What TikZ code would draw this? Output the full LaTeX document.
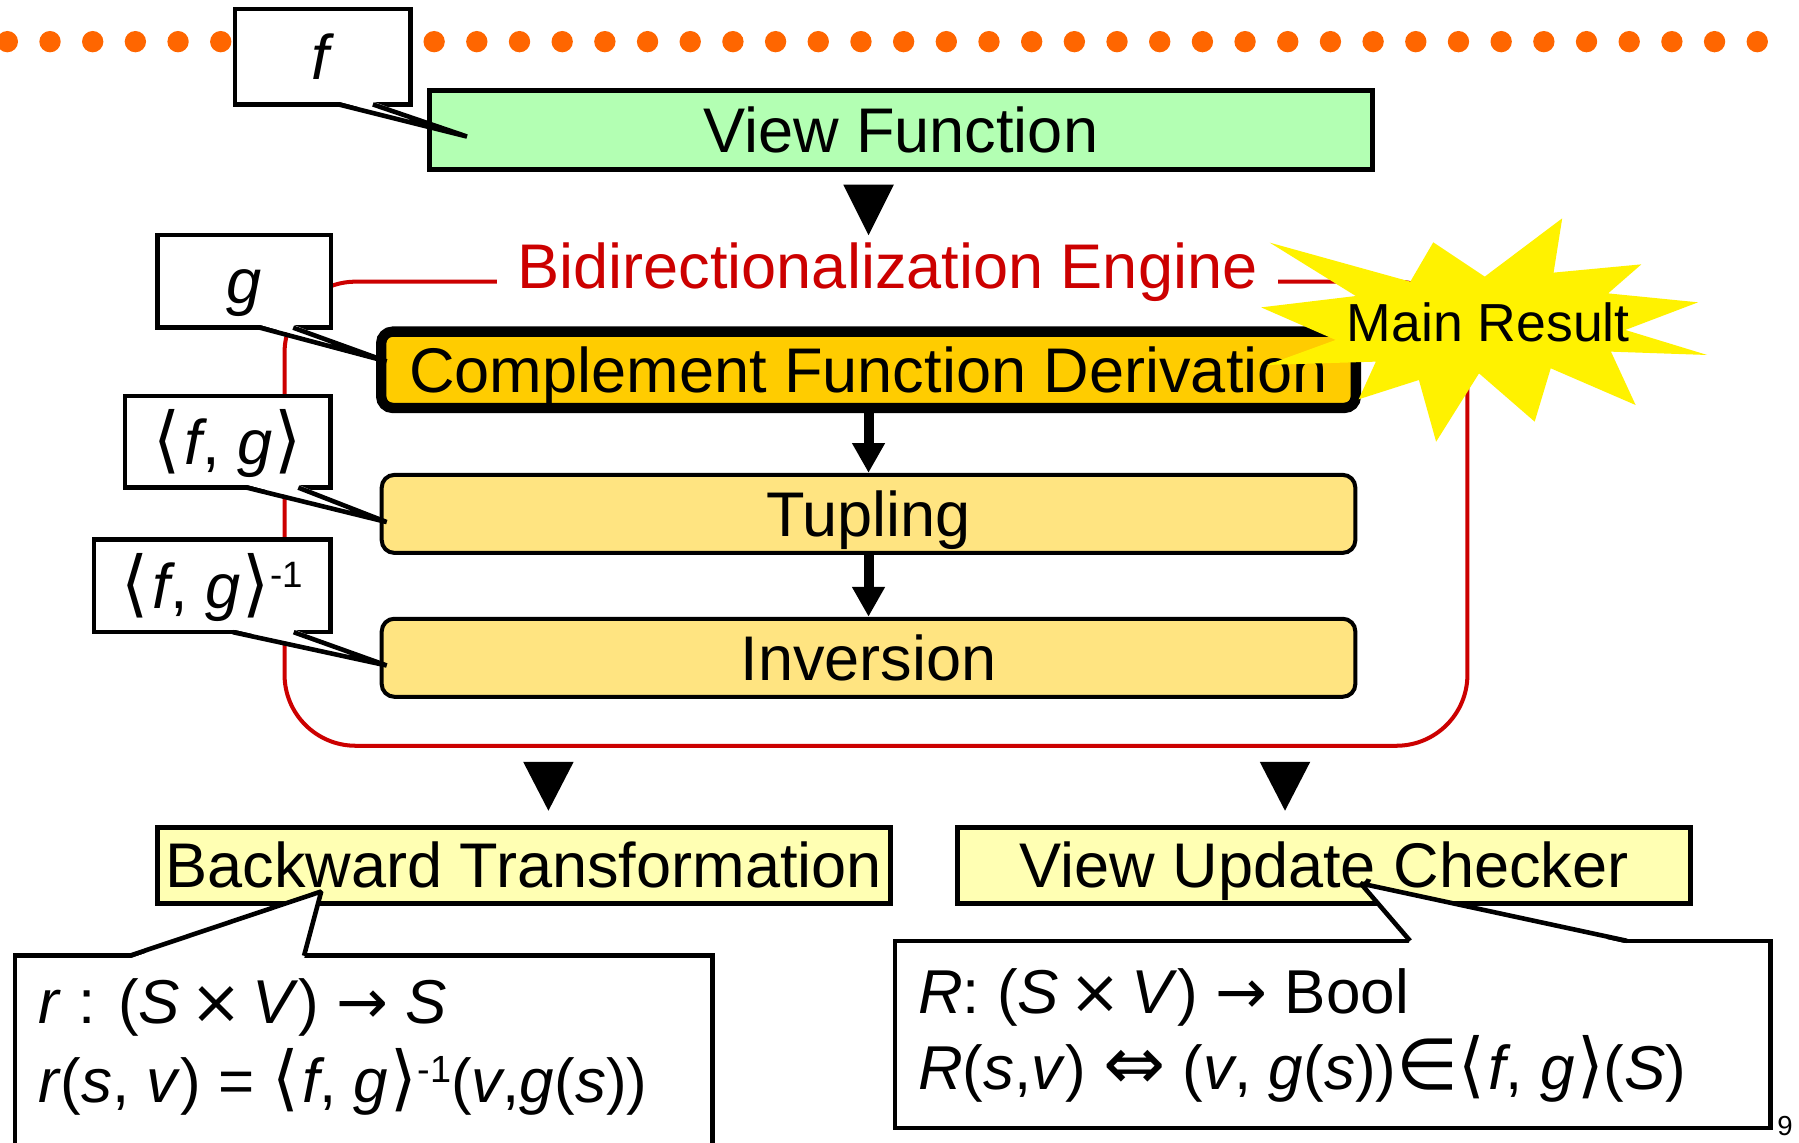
\documentclass[tikz,border=0pt]{standalone}
\usepackage{fontspec}
\setmainfont{Liberation Sans}
\newfontfamily\symf{DejaVu Sans}
\usetikzlibrary{arrows.meta}
\definecolor{dotorange}{HTML}{FF6600}
\definecolor{viewgreen}{HTML}{B3FFB3}
\definecolor{engred}{HTML}{CC0000}
\definecolor{compgold}{HTML}{FFCC00}
\definecolor{steppale}{HTML}{FFE481}
\definecolor{outpale}{HTML}{FFFFB3}
\newcommand{\lpair}{{\symf\scalebox{1.1}[1.15]{⟨}\hspace{.06em}}}
\newcommand{\rpair}{{\hspace{.04em}\symf\scalebox{1.1}[1.15]{⟩}}}
\newcommand{\supinv}[1]{\raisebox{.33em}{\fontsize{#1}{#1}\selectfont -1}}
\begin{document}
\begin{tikzpicture}[x=1pt,y=-1pt,
                bigfont/.style={font=\fontsize{55}{60}\selectfont},
                stepbox/.style={draw,line width=3.5pt,rounded corners=11pt,fill=steppale,minimum width=848.6pt,minimum height=68pt,inner sep=0pt,text height=39pt,text depth=0pt,bigfont},
                outbox/.style={draw,line width=4.4pt,fill=outpale,minimum width=639pt,minimum height=66.5pt,inner sep=0pt,text height=39pt,text depth=0pt,bigfont},
                lbl/.style={draw,line width=4pt,fill=white,inner sep=0pt,text height=39pt,text depth=0pt,bigfont},
                ptr/.style={line width=4pt,line join=bevel},
                dflow/.style={line width=8.7pt,-{Triangle[width=27pt,length=26pt]}},
                formula/.style={anchor=base west,inner sep=0pt,font=\fontsize{54}{58}\selectfont}]
                \fill[white] (0,0) rectangle (1568,996);
                \useasboundingbox (0,0) rectangle (1568,996);
                \foreach \i in {0,...,41}
                {
                    \fill[dotorange] (6.4+37.2*\i,36.3) circle (9.3pt);
                }
                \node[draw,line width=4.4pt,fill=viewgreen,minimum width=822pt,minimum height=68.5pt,inner sep=0pt,text height=39pt,text depth=0pt,bigfont] (view) at (785,113.3) {View Function};
                \draw[engred,line width=3.5pt,rounded corners=62pt] (248,245.5) rectangle (1279,650);
                \node[engred,fill=white,inner xsep=18pt,inner ysep=2pt,anchor=base,bigfont] (engine) at (773.5,251.3) {Bidirectionalization Engine};
                \node[draw,line width=9pt,rounded corners=10pt,fill=compgold,minimum width=849.5pt,minimum height=66.5pt,inner sep=0pt,text height=39pt,text depth=0pt,bigfont] (comp) at (757,322.3) {Complement Function Derivation};
                \node[stepbox] (tup) at (757,447.9) {Tupling};
                \node[stepbox] (inv) at (757,573.3) {Inversion};
                \draw[dflow] (comp) -- (tup);
                \draw[dflow] (tup) -- (inv);
                \fill (735,161) -- (779,161) -- (757,205) -- cycle;
                \fill (456,664) -- (500,664) -- (478,706.6) -- cycle;
                \fill (1098,664) -- (1142,664) -- (1120,706.6) -- cycle;
                \node[outbox] (back) at (456.5,754.3) {Backward Transformation};
                \node[outbox] (chk) at (1154,754.3) {View Update Checker};
                \node[lbl,minimum width=153pt,minimum height=83pt] (f) at (281.5,49.5) {\textit{f}};
                \node[lbl,minimum width=151.5pt,minimum height=80.8pt] (g) at (212.8,245.2) {\textit{g}};
                \node[lbl,minimum width=179pt,minimum height=80pt] (fg) at (198.5,385) {\lpair\textit{f}, \textit{g}\rpair};
                \node[lbl,minimum width=206pt,minimum height=81pt] (fgi) at (185,510.5) {\lpair\textit{f}, \textit{g}\rpair\supinv{32}};
                \coordinate (fTip) at (407,119);
                \coordinate (gTip) at (337,315);
                \coordinate (fgTip) at (337,455);
                \coordinate (fgiTip) at (337,580);
                \foreach \nd/\xa/\xb/\tp in {f/-65/-35/fTip,g/-64/-35/gTip,fg/-75/-30/fgTip,fgi/-87/-34/fgiTip}
                {
                    \fill[white] ([shift={(\xa pt,4.5pt)}]\nd.south east) -- (\tp) -- ([shift={(\xb pt,4.5pt)}]\nd.south east) -- cycle;
                    \draw[ptr] ([shift={(\xa pt,2pt)}]\nd.south east) -- (\tp) -- ([shift={(\xb pt,2pt)}]\nd.south east);
                }
                \fill[yellow] (1106.7,211.5) -- (1229.2,245.5) -- (1249.2,211.2) -- (1294.1,241.1) -- (1361.6,190.3) -- (1354.1,237.6) -- (1430.6,230.4) -- (1401.6,255.7) -- (1480,263.5) -- (1416.6,287.6) -- (1488,309.4) -- (1404.1,306.5) -- (1425.6,353) -- (1351.6,321) -- (1337.6,367.5) -- (1289.1,325.4) -- (1251.7,385) -- (1236.7,331.2) -- (1184.2,348) -- (1199.2,315.2) -- (1104.2,318.1) -- (1164.2,296.3) -- (1099.2,267.9) -- (1181.7,258) -- cycle;
                \node[anchor=base west,inner sep=0pt,font=\fontsize{46.7}{50}\selectfont] (mainres) at (1173.8,297.8) {Main Result};
                \node[draw,line width=4pt,fill=white,minimum width=608pt,minimum height=200pt,inner sep=0pt] (rbox) at (317,933) {};
                \node[draw,line width=4pt,fill=white,minimum width=763pt,minimum height=163pt,inner sep=0pt] (cbox) at (1161.5,901.5) {};
                \coordinate (rTip) at (280,777);
                \coordinate (cTip) at (1186,770);
                \foreach \nd/\xa/\xb/\tp in {rbox/102/254/rTip,cbox/451/640/cTip}
                {
                    \fill[white] ([shift={(\xa pt,-4.5pt)}]\nd.north west) -- (\tp) -- ([shift={(\xb pt,-4.5pt)}]\nd.north west) -- cycle;
                    \draw[ptr] ([shift={(\xa pt,-2pt)}]\nd.north west) -- (\tp) -- ([shift={(\xb pt,-2pt)}]\nd.north west);
                }
                \node[formula] (rsig) at (33,892) {\textit{r} : (\textit{S}\,{\symf ×}\,\textit{V}) {\symf →} \textit{S}};
                \node[formula] (rdef) at (33,961) {\textit{r}(\textit{s}, \textit{v}) = \lpair\textit{f}, \textit{g}\rpair\supinv{33}(\textit{v},\textit{g}(\textit{s}))};
                \node[formula] (csig) at (800,883) {\textit{R}: (\textit{S}\,{\symf ×}\,\textit{V}) {\symf →} Bool};
                \node[formula] (cdef) at (800,950) {\textit{R}(\textit{s},\textit{v}) {\symf\scalebox{1.2}{⇔}} (\textit{v}, \textit{g}(\textit{s})){\symf\scalebox{1.15}{∈}}\lpair\textit{f}, \textit{g}\rpair(\textit{S})};
                \node[anchor=base west,inner sep=0pt,font=\fontsize{24}{24}\selectfont] (pnum) at (1549,990) {9};
            \end{tikzpicture}
\end{document}
